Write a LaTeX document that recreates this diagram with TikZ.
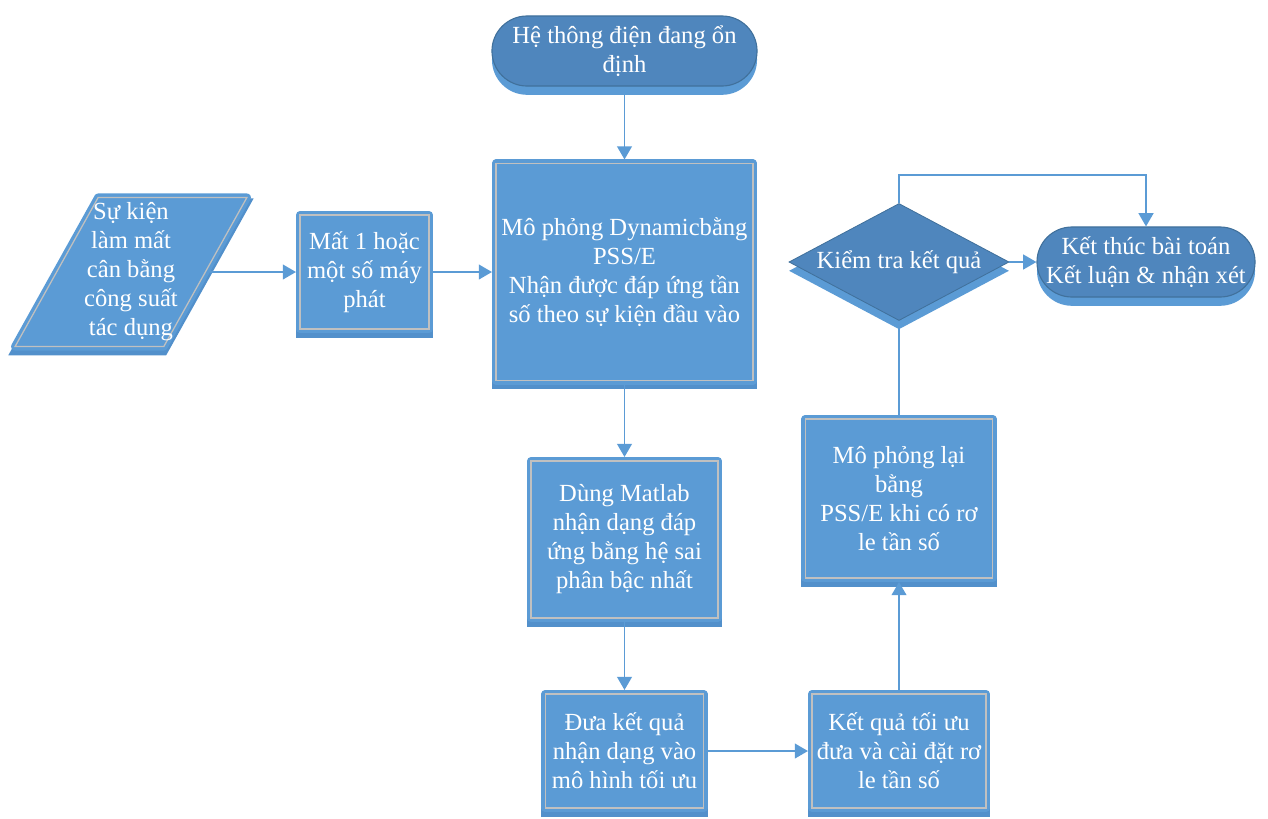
\documentclass[tikz,border=0pt]{standalone}
\usepackage{fontspec}
\setmainfont{Liberation Serif}
\usetikzlibrary{positioning,arrows.meta,shapes.geometric}
\definecolor{fcblue}{HTML}{5B9BD5}
\definecolor{fcdark}{HTML}{4F86BD}
\definecolor{fcedge}{HTML}{41719C}
\definecolor{fcshade}{HTML}{5290CB}
\definecolor{fcgrey}{HTML}{C0C0C0}

\begin{document}
\begin{tikzpicture}[x=0.025cm, y=-0.025cm,
   font=\fontsize{17.5}{20.6}\selectfont,
   box/.style={draw=fcgrey, line width=0.9pt, fill=fcblue, text=white,
               align=center, inner sep=0pt, outer sep=0.1cm,
               preaction={fill=fcshade, draw=fcshade, line width=0.2cm,
                          transform canvas={yshift=-0.12cm}},
               preaction={draw=fcblue, line width=0.2cm, line join=round}},
   term/.style={draw=fcedge, line width=0.8pt, fill=fcdark, text=white,
                rounded corners=0.875cm, minimum height=1.75cm, align=center,
                preaction={fill=fcblue, transform canvas={yshift=-0.22cm}}},
   decision/.style={diamond, draw=fcedge, line width=0.6pt, fill=fcdark,
                    inner sep=0pt, minimum width=5.5cm, minimum height=2.925cm,
                    preaction={fill=fcblue, transform canvas={yshift=-0.22cm}}},
   link/.style={draw=fcblue, line width=1.3pt},
   >={Triangle[length=0.33cm, width=0.37cm]}]
  \useasboundingbox (0,0) rectangle (1268,818);

  \node[term, minimum width=6.625cm] (start) at (624.5,51) {Hệ thông điện đang ổn\\định};
  \node[box, trapezium, trapezium left angle=59, trapezium right angle=121,
        trapezium stretches=true, inner xsep=-0.35cm,
        minimum width=5.65cm, minimum height=3.725cm]
        (event) at (131,272) {Sự kiện\\làm mất\\cân bằng\\công suất\\tác dụng};
  \node[box, minimum width=3.225cm, minimum height=2.85cm] (loss) at (364.5,272) {Mất 1 hoặc\\một số máy\\phát};
  \node[box, minimum width=6.425cm, minimum height=5.425cm] (sim) at (624.5,272)
        {Mô phỏng Dynamicbằng\\PSS/E\\Nhận được đáp ứng tần\\số theo sự kiện đầu vào};
  \node[box, minimum width=4.675cm, minimum height=3.925cm] (ident) at (624.5,539.5)
        {Dùng Matlab\\nhận dạng đáp\\ứng bằng hệ sai\\phân bậc nhất};
  \node[box, minimum width=3.95cm, minimum height=2.85cm] (model) at (624.5,751)
        {Đưa kết quả\\nhận dạng vào\\mô hình tối ưu};
  \node[box, minimum width=4.35cm, minimum height=2.85cm] (opt) at (899,751)
        {Kết quả tối ưu\\đưa và cài đặt rơ\\le tần số};
  \node[box, minimum width=4.675cm, minimum height=3.975cm] (resim) at (899,498.5)
        {Mô phỏng lại\\bằng\\PSS/E khi có rơ\\le tần số};
  \node[decision, label={[text=white]center:Kiểm tra kết quả}] (check) at (899,262) {};
  \node[term, minimum width=5.45cm] (finish) at (1146,262) {Kết thúc bài toán\\Kết luận \& nhận xét};

  \draw[link,->] (start) -- (sim);
  \draw[link,->] (event) -- (loss);
  \draw[link,->] (loss) -- (sim);
  \draw[link,->] (sim) -- (ident);
  \draw[link,->] (ident) -- (model);
  \draw[link,->] (model) -- (opt);
  \draw[link,->] (opt) -- (resim);
  \draw[link] (resim) -- (check);
  \draw[link,->] (check) -- (finish);
  \draw[link,->] (check.north) -- ++(0,-28) -| (finish.north);
\end{tikzpicture}
\end{document}
